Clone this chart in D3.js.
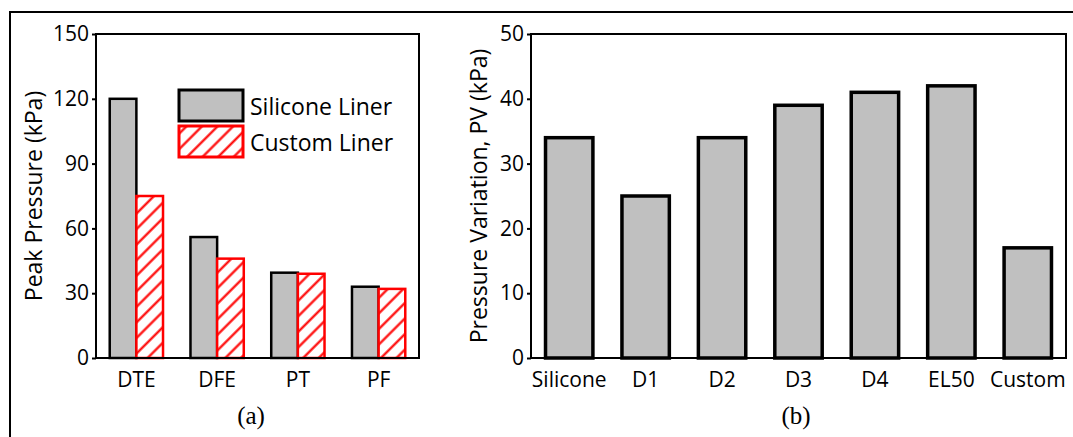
<!DOCTYPE html>
<html>
<head>
<meta charset="utf-8">
<script src="https://cdn.jsdelivr.net/npm/d3@7"></script>
<style>
  body { margin: 0; background: #fff; }
  text { fill: #000; }
</style>
</head>
<body>
<script>

/******** Data *********/

var groupsA = ["DTE", "DFE", "PT", "PF"]
var siliconeA = [120, 56, 39.5, 33]
var customA = [75, 46, 39, 32]
var ticksA = [0, 30, 60, 90, 120, 150]

var labelsB = ["Silicone", "D1", "D2", "D3", "D4", "EL50", "Custom"]
var valuesB = [34, 25, 34, 39, 41, 42, 17]
var ticksB = [0, 10, 20, 30, 40, 50]

var legendNames = ["Silicone Liner", "Custom Liner"]

var W = 1073, H = 437
var top_y = 34, bottom_y = 358
var sans = "'Open Sans', sans-serif"
var serif = "'Liberation Serif', 'Times New Roman', serif"

var svg = d3.select("body")
  .append("svg")
    .attr("width", W)
    .attr("height", H)
    .style("font-family", sans)

svg.append("rect")
  .attr("width", W).attr("height", H)
  .attr("fill", "#fff")

/******** Hatch pattern *********/
var pat = svg.append("defs")
  .append("pattern")
    .attr("id", "hatch")
    .attr("patternUnits", "userSpaceOnUse")
    .attr("width", 11)
    .attr("height", 11)
    .attr("patternTransform", "rotate(45)")
pat.append("rect").attr("width", 11).attr("height", 11).attr("fill", "#fff")
pat.append("line")
  .attr("x1", 5.5).attr("y1", 0).attr("x2", 5.5).attr("y2", 11)
  .attr("stroke", "#ff0000")
  .attr("stroke-width", 2.2)

/******** Outer frame *********/
svg.append("rect")
  .attr("x", 10).attr("y", 12)
  .attr("width", 1100).attr("height", 500)
  .attr("fill", "none")
  .attr("stroke", "#000")
  .attr("stroke-width", 2)

/******** Panel (a) *********/
var xa = d3.scaleBand()
  .domain(groupsA)
  .range([96, 419])
  .paddingInner(0.34)
  .paddingOuter(0.17)

var ya = d3.scaleLinear()
  .domain([0, 150])
  .range([bottom_y, top_y])

var ga = svg.append("g")

ga.selectAll("rect.silicone")
  .data(siliconeA)
  .enter()
  .append("rect")
    .attr("class", "silicone")
    .attr("x", function(d, i){ return xa(groupsA[i]) })
    .attr("y", function(d){ return ya(d) })
    .attr("width", xa.bandwidth() / 2)
    .attr("height", function(d){ return ya(0) - ya(d) })
    .attr("fill", "#c0c0c0")
    .attr("stroke", "#000")
    .attr("stroke-width", 2.5)

ga.selectAll("rect.custom")
  .data(customA)
  .enter()
  .append("rect")
    .attr("class", "custom")
    .attr("x", function(d, i){ return xa(groupsA[i]) + xa.bandwidth() / 2 })
    .attr("y", function(d){ return ya(d) })
    .attr("width", xa.bandwidth() / 2)
    .attr("height", function(d){ return ya(0) - ya(d) })
    .attr("fill", "url(#hatch)")
    .attr("stroke", "#ff0000")
    .attr("stroke-width", 2.5)

// plot box
ga.append("rect")
  .attr("x", 96).attr("y", top_y)
  .attr("width", 419 - 96).attr("height", bottom_y - top_y)
  .attr("fill", "none")
  .attr("stroke", "#000")
  .attr("stroke-width", 2)

var ya_axis = d3.axisLeft(ya).tickValues(ticksA).tickSize(4).tickPadding(3).tickSizeOuter(0)
ga.append("g")
  .attr("transform", "translate(96,0)")
  .call(ya_axis)
  .call(function(g){ g.select(".domain").remove() })
  .call(function(g){
    g.selectAll("line").attr("stroke", "#000").attr("stroke-width", 2)
    g.selectAll("text").attr("font-size", "21px").attr("font-family", sans)
  })

var xa_axis = d3.axisBottom(xa).tickSize(0).tickPadding(14)
ga.append("g")
  .attr("transform", "translate(0," + bottom_y + ")")
  .call(xa_axis)
  .call(function(g){ g.select(".domain").remove() })
  .call(function(g){
    g.selectAll("text").attr("font-size", "21px").attr("font-family", sans)
  })

ga.append("text")
  .attr("transform", "translate(42,196) rotate(-90)")
  .attr("text-anchor", "middle")
  .attr("font-size", "23px")
  .text("Peak Pressure (kPa)")

// legend
var legFill = ["#c0c0c0", "url(#hatch)"]
var legStroke = ["#000", "#ff0000"]
var leg = ga.selectAll("g.leg")
  .data(legendNames)
  .enter()
  .append("g")
    .attr("class", "leg")
    .attr("transform", function(d, i){ return "translate(179," + (90 + i * 36) + ")" })
leg.append("rect")
  .attr("width", 64).attr("height", 31)
  .attr("fill", function(d, i){ return legFill[i] })
  .attr("stroke", function(d, i){ return legStroke[i] })
  .attr("stroke-width", 3)
leg.append("text")
  .attr("x", 71).attr("y", 25)
  .attr("font-size", "23px")
  .text(function(d){ return d })

ga.append("text")
  .attr("x", 251).attr("y", 424)
  .attr("text-anchor", "middle")
  .style("font-family", serif)
  .attr("font-size", "25px")
  .text("(a)")

/******** Panel (b) *********/
var xb = d3.scaleBand()
  .domain(labelsB)
  .range([531, 1066])
  .paddingInner(0.38)
  .paddingOuter(0.19)

var yb = d3.scaleLinear()
  .domain([0, 50])
  .range([bottom_y, top_y])

var gb = svg.append("g")

gb.selectAll("rect.bar")
  .data(valuesB)
  .enter()
  .append("rect")
    .attr("class", "bar")
    .attr("x", function(d, i){ return xb(labelsB[i]) })
    .attr("y", function(d){ return yb(d) })
    .attr("width", xb.bandwidth())
    .attr("height", function(d){ return yb(0) - yb(d) })
    .attr("fill", "#c0c0c0")
    .attr("stroke", "#000")
    .attr("stroke-width", 3.5)

gb.append("rect")
  .attr("x", 531).attr("y", top_y)
  .attr("width", 1066 - 531).attr("height", bottom_y - top_y)
  .attr("fill", "none")
  .attr("stroke", "#000")
  .attr("stroke-width", 2)

var yb_axis = d3.axisLeft(yb).tickValues(ticksB).tickSize(4).tickPadding(3).tickSizeOuter(0)
gb.append("g")
  .attr("transform", "translate(531,0)")
  .call(yb_axis)
  .call(function(g){ g.select(".domain").remove() })
  .call(function(g){
    g.selectAll("line").attr("stroke", "#000").attr("stroke-width", 2)
    g.selectAll("text").attr("font-size", "21px").attr("font-family", sans)
  })

var xb_axis = d3.axisBottom(xb).tickSize(0).tickPadding(14)
gb.append("g")
  .attr("transform", "translate(0," + bottom_y + ")")
  .call(xb_axis)
  .call(function(g){ g.select(".domain").remove() })
  .call(function(g){
    g.selectAll("text").attr("font-size", "21px").attr("font-family", sans)
  })

gb.append("text")
  .attr("transform", "translate(487,196) rotate(-90)")
  .attr("text-anchor", "middle")
  .attr("font-size", "23px")
  .text("Pressure Variation, PV (kPa)")

gb.append("text")
  .attr("x", 796).attr("y", 424)
  .attr("text-anchor", "middle")
  .style("font-family", serif)
  .attr("font-size", "25px")
  .text("(b)")

</script>
</body>
</html>
